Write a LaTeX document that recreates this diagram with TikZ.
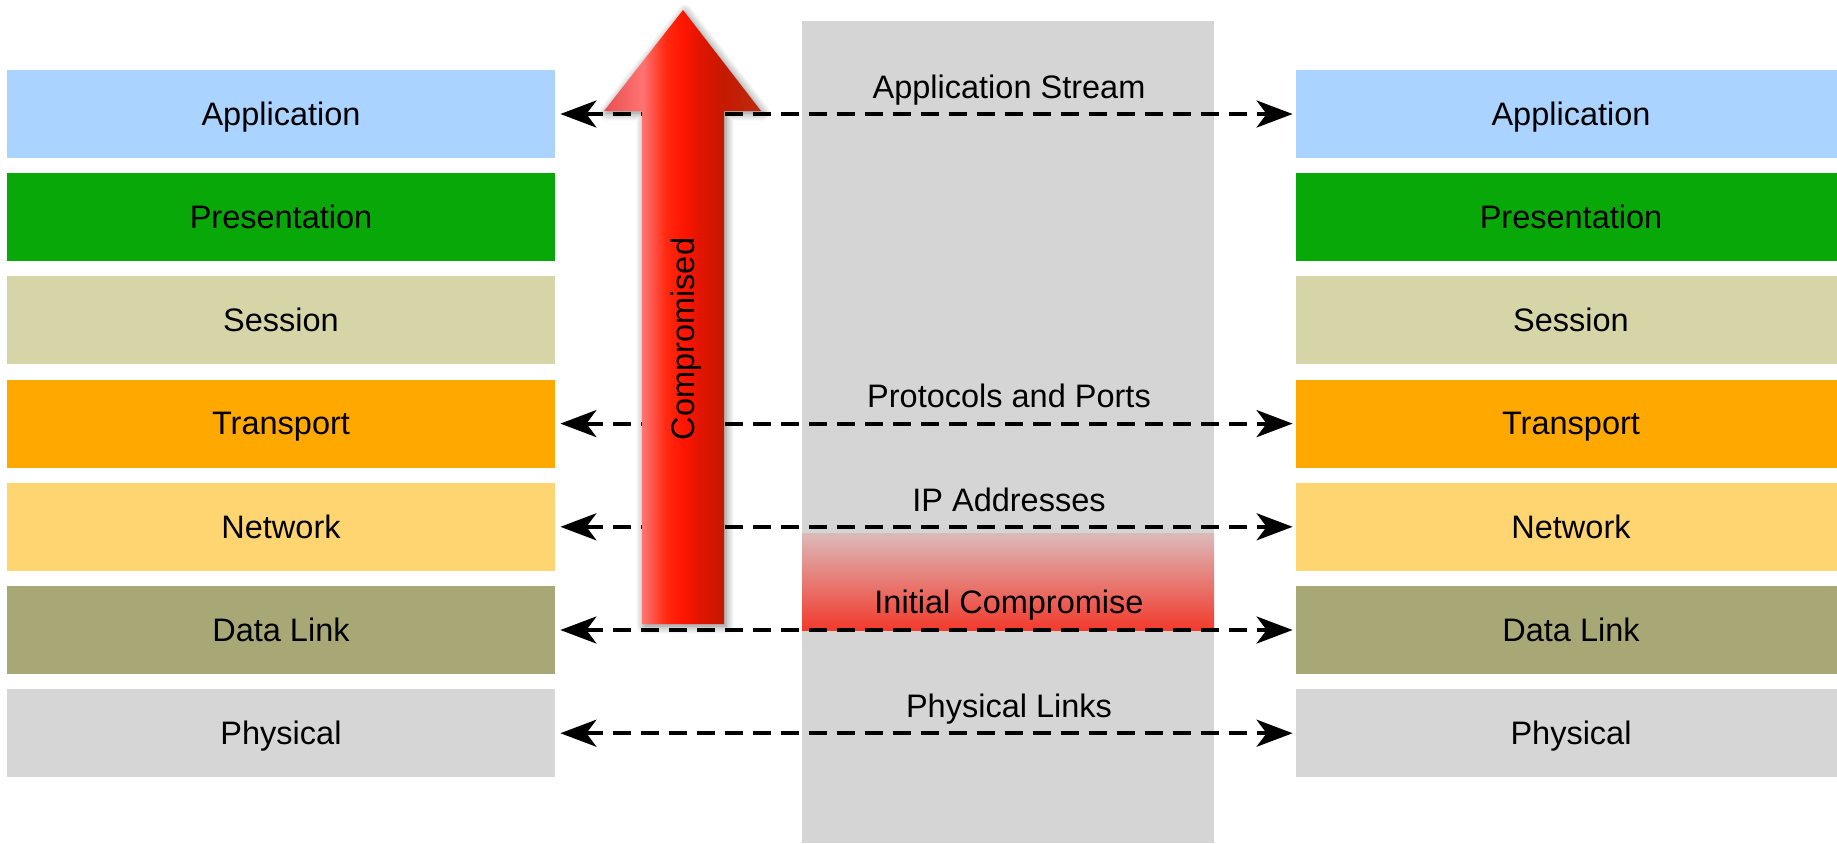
\documentclass[tikz,border=0pt]{standalone}
\usepackage{fontspec}
\setmainfont{Liberation Sans}
\usetikzlibrary{arrows.meta,shadows.blur}
\definecolor{cApp}{HTML}{AAD4FF}
\definecolor{cPre}{HTML}{08A808}
\definecolor{cSes}{HTML}{D5D5A8}
\definecolor{cTra}{HTML}{FFA800}
\definecolor{cNet}{HTML}{FFD572}
\definecolor{cDat}{HTML}{A8A877}
\definecolor{cPhy}{HTML}{D6D6D6}
\definecolor{cCol}{HTML}{D5D5D5}
\definecolor{icTop}{HTML}{DCBABA}
\definecolor{icBot}{HTML}{F23A2C}
\definecolor{a1}{HTML}{E85050}
\definecolor{a2}{HTML}{FF7373}
\definecolor{a3}{HTML}{FF2A10}
\definecolor{a4}{HTML}{FF1500}
\definecolor{a5}{HTML}{E01500}
\definecolor{a6}{HTML}{C41A00}
\definecolor{a7}{HTML}{BE2A10}
\pgfdeclarehorizontalshading{arrowshade}{100bp}{color(0bp)=(a1); color(25bp)=(a1); color(37.34bp)=(a2); color(44.62bp)=(a3); color(50.32bp)=(a4); color(55.7bp)=(a5); color(63.29bp)=(a6); color(75bp)=(a7); color(100bp)=(a7)}
\begin{document}
\begin{tikzpicture}[x=0.5pt,y=-0.5pt,
  txt/.style={font=\fontsize{16.25}{19}\selectfont, text height=1.12em, text depth=0pt, inner sep=0pt},
  layerL/.style={txt, minimum width=274pt, minimum height=44pt},
  layerR/.style={txt, minimum width=275pt, minimum height=44pt},
  dasharrow/.style={line width=2pt, dash pattern=on 9pt off 5pt,
     {Stealth[length=18pt,width=13.5pt,inset=5pt]}-{Stealth[length=18pt,width=13.5pt,inset=5pt]},
     shorten <=2.5pt, shorten >=1.5pt}]
\useasboundingbox (0,0) rectangle (1837,843);
% central column
\node[fill=cCol, minimum width=206pt, minimum height=411pt, inner sep=0pt] (col) at (1008,432) {};
% initial compromise band
\node[top color=icTop, bottom color=icBot, minimum width=206pt, minimum height=48.5pt, inner sep=0pt] (ic) at (1008,581.5) {};
% layers
\foreach \i/\t/\c in {1/Application/cApp,2/Presentation/cPre,3/Session/cSes,4/Transport/cTra,5/Network/cNet,6/Data Link/cDat,7/Physical/cPhy}{
  \node[layerL, fill=\c] (L\i) at (281,{114+103.2*(\i-1)}) {\t};
  \node[layerR, fill=\c] (R\i) at (1571,{114+103.2*(\i-1)}) {\t};
}
% labels
\node[txt] (lab1) at (1009,87) {Application Stream};
\node[txt] (lab4) at (1009,396) {Protocols and Ports};
\node[txt] (lab5) at (1009,500) {IP Addresses};
\node[txt] (lab6) at (1009,602) {Initial Compromise};
\node[txt] (lab7) at (1009,706) {Physical Links};
% dashed connectors
\foreach \i in {1,4,5,6,7}{
  \draw[dasharrow] (L\i) -- (R\i);
}
% red arrow
\shade[shading=arrowshade, blur shadow={shadow xshift=1pt, shadow yshift=-1pt, shadow blur radius=4pt, shadow blur steps=8, shadow opacity=50}]
  (642,624) -- (642,111) -- (604,111) -- (683,10) -- (761,111) -- (724,111) -- (724,624) -- cycle;
\node[txt, rotate=90] (comp) at (683,339) {Compromised};
\end{tikzpicture}
\end{document}
